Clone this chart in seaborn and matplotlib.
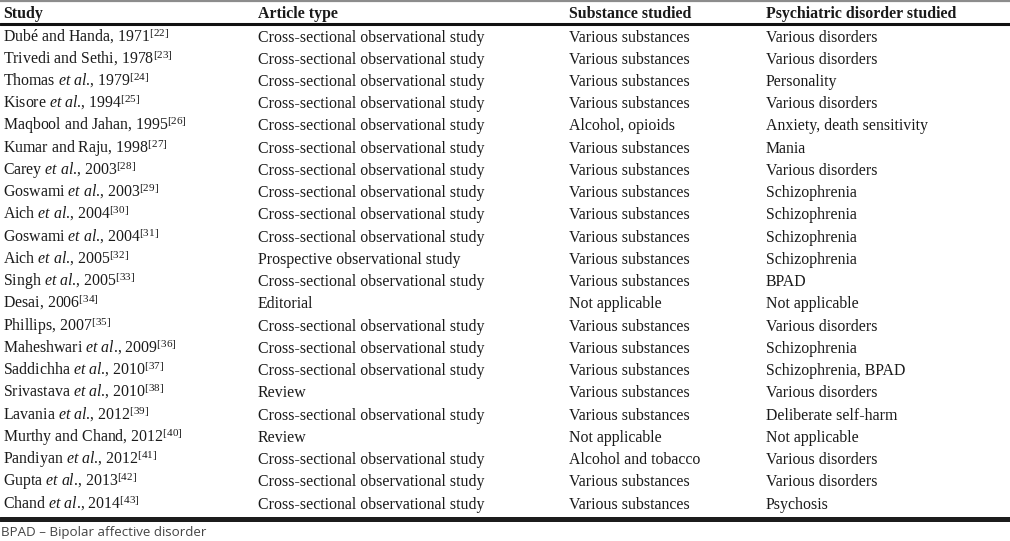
import matplotlib
matplotlib.use("Agg")
import matplotlib.pyplot as plt
import seaborn as sns

# table contents
headers = ["Study", "Article type", "Substance studied", "Psychiatric disorder studied"]

studies = [
    "Dubé and Handa, 1971",
    "Trivedi and Sethi, 1978",
    "Thomas et al., 1979",
    "Kisore et al., 1994",
    "Maqbool and Jahan, 1995",
    "Kumar and Raju, 1998",
    "Carey et al., 2003",
    "Goswami et al., 2003",
    "Aich et al., 2004",
    "Goswami et al., 2004",
    "Aich et al., 2005",
    "Singh et al., 2005",
    "Desai, 2006",
    "Phillips, 2007",
    "Maheshwari et al., 2009",
    "Saddichha et al., 2010",
    "Srivastava et al., 2010",
    "Lavania et al., 2012",
    "Murthy and Chand, 2012",
    "Pandiyan et al., 2012",
    "Gupta et al., 2013",
    "Chand et al., 2014",
]

refs = [22, 23, 24, 25, 26, 27, 28, 29, 30, 31, 32,
        33, 34, 35, 36, 37, 38, 39, 40, 41, 42, 43]

article_types = [
    "Cross-sectional observational study",
    "Cross-sectional observational study",
    "Cross-sectional observational study",
    "Cross-sectional observational study",
    "Cross-sectional observational study",
    "Cross-sectional observational study",
    "Cross-sectional observational study",
    "Cross-sectional observational study",
    "Cross-sectional observational study",
    "Cross-sectional observational study",
    "Prospective observational study",
    "Cross-sectional observational study",
    "Editorial",
    "Cross-sectional observational study",
    "Cross-sectional observational study",
    "Cross-sectional observational study",
    "Review",
    "Cross-sectional observational study",
    "Review",
    "Cross-sectional observational study",
    "Cross-sectional observational study",
    "Cross-sectional observational study",
]

substances = [
    "Various substances", "Various substances", "Various substances",
    "Various substances", "Alcohol, opioids", "Various substances",
    "Various substances", "Various substances", "Various substances",
    "Various substances", "Various substances", "Various substances",
    "Not applicable", "Various substances", "Various substances",
    "Various substances", "Various substances", "Various substances",
    "Not applicable", "Alcohol and tobacco", "Various substances",
    "Various substances",
]

disorders = [
    "Various disorders", "Various disorders", "Personality",
    "Various disorders", "Anxiety, death sensitivity", "Mania",
    "Various disorders", "Schizophrenia", "Schizophrenia",
    "Schizophrenia", "Schizophrenia", "BPAD",
    "Not applicable", "Various disorders", "Schizophrenia",
    "Schizophrenia, BPAD", "Various disorders", "Deliberate self-harm",
    "Not applicable", "Various disorders", "Various disorders",
    "Psychosis",
]

footnote = "BPAD \u2013 Bipolar affective disorder"

sns.set_theme(style="white")
plt.rcParams["font.family"] = ["Liberation Serif", "DejaVu Serif"]
plt.rcParams["mathtext.fontset"] = "custom"
plt.rcParams["mathtext.rm"] = "Liberation Serif"
plt.rcParams["mathtext.it"] = "Liberation Serif:italic"
plt.rcParams["mathtext.bf"] = "Liberation Serif:bold"

fig = plt.figure(figsize=(10.10, 5.41), dpi=100)
ax = fig.add_axes([0, 0, 1, 1])
ax.set_xlim(0, 1010)
ax.set_ylim(541, 0)
ax.axis("off")

col_x = [3, 258, 569, 766]
text_color = "#1a1a1a"
fs = 11.4


def study_label(name, ref):
    # period kept outside math mode so mathtext adds no punctuation space
    name = name.replace("et al.", r"$\mathit{et\ al}$.")
    return name + r"$^{[" + str(ref) + r"]}$"


# header
for x, h in zip(col_x, headers):
    ax.text(x, 18, h, fontsize=fs, fontweight="bold", color=text_color,
            va="baseline", ha="left")

ax.axhline(1.2, color="#8c8c8c", lw=1.6)
ax.axhline(24, color="#111111", lw=2.2)

row_y0 = 41.5
row_step = 22.24
for i in range(len(studies)):
    y = round(row_y0 + i * row_step)
    cells = [study_label(studies[i], refs[i]), article_types[i],
             substances[i], disorders[i]]
    for x, c in zip(col_x, cells):
        ax.text(x, y, c, fontsize=fs, color=text_color, va="baseline",
                ha="left")

ax.axhline(518.5, color="#1c1c1c", lw=3.6)

ax.text(1, 536, footnote, fontsize=9.6, color="#444444", va="baseline",
        ha="left", family=["Open Sans", "DejaVu Sans"])

fig.savefig("out.png", dpi=100)
